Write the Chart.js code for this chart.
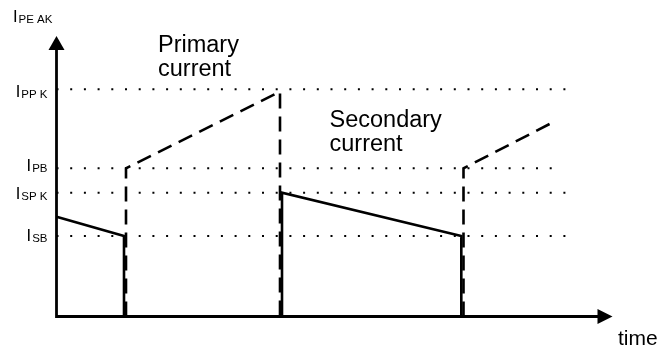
<!DOCTYPE html>
<html><head><meta charset="utf-8">
<script src="https://cdn.jsdelivr.net/npm/chart.js@4.4.1/dist/chart.umd.min.js"></script>
<style>html,body{margin:0;padding:0;background:#fff}#wrap{width:659px;height:347px;position:relative}</style>
</head><body><div id="wrap"><canvas id="c"></canvas></div>
<script>
// ---- data (time and current in arbitrary units) ----
const levelNames  = ['PP K', 'PB', 'SP K', 'SB'];
const levelValues = [22.72, 14.82, 12.38, 8.05];
const levelEnds   = [51.05, 49.85, 51.05, 51.05];

// Primary current (dashed)
const primaryT1 = [6.95, 6.95, 22.35, 22.35];
const primaryI1 = [0, 14.82, 22.48, 0];
const primaryT2 = [40.7, 40.7, 49.95];
const primaryI2 = [0, 14.82, 19.58];

// Secondary current (solid)
const secondaryT1 = [0, 6.75, 6.75];
const secondaryI1 = [9.98, 8.05, 0];
const secondaryT2 = [22.55, 22.55, 40.48, 40.48];
const secondaryI2 = [0, 12.38, 8.05, 0];

// Axis extents
const axisTimeMax = 55.6;
const axisCurrentMax = 28.05;

const FONT = "'Liberation Sans', Arial, sans-serif";
const pts = (t, i) => t.map((v, k) => ({x: v, y: i[k]}));

const datasets = [];
levelValues.forEach((v, k) => {
  datasets.push({data: [{x: 0, y: v}, {x: levelEnds[k], y: v}], borderColor: '#000',
    borderWidth: 2, borderDash: [2, 11.7], borderCapStyle: 'butt', pointRadius: 0, order: 5});
});
const solid = {borderColor: '#000', borderWidth: 2.6, pointRadius: 0, borderJoinStyle: 'miter', borderCapStyle: 'butt', order: 1};
const dashed = {borderColor: '#000', borderWidth: 2.6, pointRadius: 0, borderDash: [15, 8], borderJoinStyle: 'miter', borderCapStyle: 'butt', order: 2};
datasets.push(Object.assign({data: pts(secondaryT1, secondaryI1)}, solid));
datasets.push(Object.assign({data: pts(secondaryT2, secondaryI2)}, solid));
datasets.push(Object.assign({data: pts(primaryT1, primaryI1)}, dashed));
datasets.push(Object.assign({data: pts(primaryT2, primaryI2)}, dashed));
// axes
datasets.push({data: [{x: 0, y: -0.15}, {x: 0, y: axisCurrentMax - 1.0}], borderColor: '#000', borderWidth: 2.8, pointRadius: 0, order: 0});
datasets.push({data: [{x: 0, y: 0}, {x: axisTimeMax - 1.0, y: 0}], borderColor: '#000', borderWidth: 2.8, pointRadius: 0, order: 0});

const labelOffsets = [8, 3, 6, 5];
const BIG = '16.5px ', SUB = '11.5px ';

function drawSubLabel(ctx, x, baseline, sub, align) {
  ctx.font = BIG + FONT;
  const wI = ctx.measureText('I').width;
  ctx.font = SUB + FONT;
  const wS = ctx.measureText(sub).width;
  const x0 = align === 'right' ? x - (wI + 1 + wS) : x;
  ctx.font = BIG + FONT;
  ctx.fillText('I', x0, baseline);
  ctx.font = SUB + FONT;
  ctx.fillText(sub, x0 + wI + 1, baseline + 1);
}

const decorPlugin = {
  id: 'decor',
  afterDatasetsDraw(chart) {
    const {ctx, scales: {x, y}} = chart;
    const ox = x.getPixelForValue(0), oy = y.getPixelForValue(0);
    const tx = x.getPixelForValue(axisTimeMax), ty = y.getPixelForValue(axisCurrentMax);
    ctx.save();
    ctx.fillStyle = '#000';
    // arrowheads
    ctx.beginPath(); ctx.moveTo(ox, ty); ctx.lineTo(ox - 8, ty + 14); ctx.lineTo(ox + 8, ty + 14); ctx.closePath(); ctx.fill();
    ctx.beginPath(); ctx.moveTo(tx, oy); ctx.lineTo(tx - 15, oy - 7.5); ctx.lineTo(tx - 15, oy + 7.5); ctx.closePath(); ctx.fill();
    ctx.textBaseline = 'alphabetic';
    ctx.textAlign = 'left';
    // level labels
    levelValues.forEach((v, k) => {
      drawSubLabel(ctx, ox - 9, y.getPixelForValue(v) + labelOffsets[k], levelNames[k], 'right');
    });
    drawSubLabel(ctx, ox - 43.5, ty - 14, 'PE AK', 'left');
    // annotations
    ctx.font = '23.5px ' + FONT;
    const px = x.getPixelForValue(10.15), py = y.getPixelForValue(26.45);
    ctx.fillText('Primary', px, py);
    ctx.fillText('current', px, py + 23.5);
    const sx = x.getPixelForValue(27.3), sy = y.getPixelForValue(18.95);
    ctx.fillText('Secondary', sx, sy);
    ctx.fillText('current', sx, sy + 24);
    ctx.font = '21px ' + FONT;
    ctx.fillText('time', x.getPixelForValue(56.15), y.getPixelForValue(-2.85));
    ctx.restore();
  }
};

new Chart(document.getElementById('c'), {
  type: 'line',
  data: {datasets},
  options: {
    responsive: true, maintainAspectRatio: false, animation: false,
    layout: {padding: 0},
    plugins: {legend: {display: false}, tooltip: {enabled: false}},
    elements: {line: {tension: 0}},
    scales: {
      x: {type: 'linear', min: -5.65, max: 60.25, display: false},
      y: {type: 'linear', min: -3.05, max: 31.65, display: false}
    }
  },
  plugins: [decorPlugin]
});
</script>
</body></html>
